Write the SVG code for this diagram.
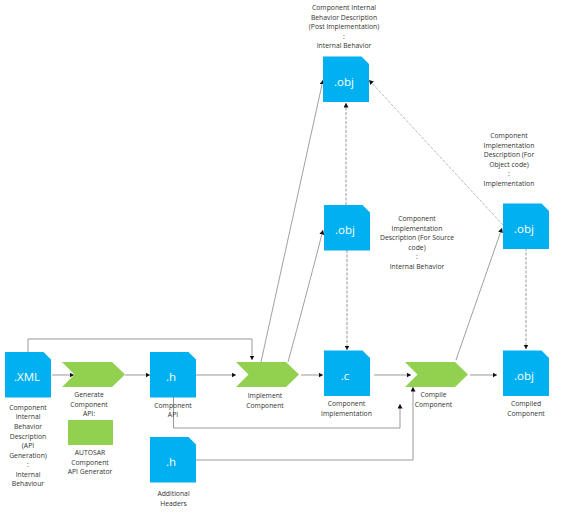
<svg xmlns="http://www.w3.org/2000/svg" width="582" height="512" viewBox="0 0 582 512">
<style>
.doc{fill:#00B0F0}
.act{fill:#92D050}
.ico{font-family:"Open Sans","Liberation Sans",sans-serif;font-size:11.500px;fill:#fff;text-anchor:middle}
.lbl{font-family:"Open Sans","Liberation Sans",sans-serif;font-size:6.800px;fill:#333;text-anchor:middle}
.ln{fill:none;stroke:#999;stroke-width:1;marker-end:url(#a)}
.thin{fill:none;stroke:#888;stroke-width:.8;marker-end:url(#a)}
.ds{fill:none;stroke:#999;stroke-width:1;stroke-dasharray:3 1.5;marker-end:url(#a)}
</style>
<defs>
<marker id="a" markerUnits="userSpaceOnUse" markerWidth="5" markerHeight="5" refX="4.500" refY="2.500" orient="auto"><path d="M0 0L4.500 2.500L0 5z" fill="#111"/></marker>
<path id="d" d="M0 0H38.500L46 7.500V45.500H0z"/>
<path id="c" d="M0 0H50L63 12.500L50 25H0L12.500 12.500z"/>
</defs>
<rect width="582" height="512" fill="#fff"/>
<g id="connectors">
<path class="ln" d="M28 352V339H252V360"/>
<path class="ln" d="M52 375H74"/>
<path class="ln" d="M125 375H150"/>
<path class="ln" d="M196 375H236"/>
<path class="ln" d="M301 375H323"/>
<path class="ln" d="M374 375H411"/>
<path class="ln" d="M470 375H497"/>
<path class="ln" d="M173.500 397V428H400V404"/>
<path class="ln" d="M196 460H413V387"/>
<path class="thin" d="M261 362L323 80"/>
<path class="thin" d="M288 362Q305 300 323 230"/>
<path class="thin" d="M456 360L502 228"/>
<path class="ds" d="M346 205V103"/>
<path class="ds" d="M347 250V350"/>
<path class="ds" d="M526 248V349"/>
<path class="ds" style="stroke-width:.7" d="M503 225L369 80"/>
</g>
<g id="xml"><use href="#d" class="doc" x="5" y="352"/><text class="ico" x="27" y="380.500">.XML</text>
<text class="lbl"><tspan x="28" y="409.500">Component</tspan><tspan x="28" y="419">Internal</tspan><tspan x="28" y="428.500">Behavior</tspan><tspan x="28" y="438.500">Description</tspan><tspan x="28" y="447.500">(API</tspan><tspan x="28" y="457.500">Generation)</tspan><tspan x="28" y="466.500">:</tspan><tspan x="28" y="476.500">Internal</tspan><tspan x="28" y="485.500">Behaviour</tspan></text></g>
<g id="generate"><use href="#c" class="act" x="62" y="362"/>
<text class="lbl"><tspan x="89" y="396.500">Generate</tspan><tspan x="89" y="406.500">Component</tspan><tspan x="89" y="415.500">API:</tspan></text></g>
<g id="generator"><rect class="act" x="68" y="420" width="45" height="25"/>
<text class="lbl"><tspan x="90" y="455">AUTOSAR</tspan><tspan x="90" y="464.500">Component</tspan><tspan x="90" y="474">API Generator</tspan></text></g>
<g id="api"><use href="#d" class="doc" x="150" y="352"/><text class="ico" x="171" y="380.500">.h</text>
<text class="lbl"><tspan x="173" y="408">Component</tspan><tspan x="173" y="417">API</tspan></text></g>
<g id="headers"><use href="#d" class="doc" x="150" y="437"/><text class="ico" x="171" y="465.500">.h</text>
<text class="lbl"><tspan x="173.500" y="495.500">Additional</tspan><tspan x="173.500" y="505.500">Headers</tspan></text></g>
<g id="implement"><use href="#c" class="act" x="236" y="362"/>
<text class="lbl"><tspan x="265" y="397.500">Implement</tspan><tspan x="265" y="407.500">Component</tspan></text></g>
<g id="impl"><use href="#d" class="doc" x="324" y="350.500"/><text class="ico" x="345" y="379.500">.c</text>
<text class="lbl"><tspan x="346.500" y="405.500">Component</tspan><tspan x="346.500" y="415.500">Implementation</tspan></text></g>
<g id="compile"><use href="#c" class="act" x="405" y="362"/>
<text class="lbl"><tspan x="433.500" y="396.500">Compile</tspan><tspan x="433.500" y="406.500">Component</tspan></text></g>
<g id="compiled"><use href="#d" class="doc" x="503" y="350.500"/><text class="ico" x="524" y="379.500">.obj</text>
<text class="lbl"><tspan x="526" y="405.500">Compiled</tspan><tspan x="526" y="415.500">Component</tspan></text></g>
<g id="post"><use href="#d" class="doc" x="323" y="56.500"/><text class="ico" x="344" y="86">.obj</text>
<text class="lbl"><tspan x="344" y="10">Component  Internal</tspan><tspan x="344" y="19.500">Behavior Description</tspan><tspan x="344" y="29">(Post Implementation)</tspan><tspan x="344" y="38.500">:</tspan><tspan x="344" y="48">Internal Behavior</tspan></text></g>
<g id="source"><use href="#d" class="doc" x="324" y="205"/><text class="ico" x="345" y="234">.obj</text>
<text class="lbl"><tspan x="417" y="221">Component</tspan><tspan x="417" y="230.500">Implementation</tspan><tspan x="417" y="240">Description  (For Source</tspan><tspan x="417" y="249.500">code)</tspan><tspan x="417" y="259">:</tspan><tspan x="417" y="268.500">Internal Behavior</tspan></text></g>
<g id="object"><use href="#d" class="doc" x="503" y="203.500"/><text class="ico" x="524" y="232.500">.obj</text>
<text class="lbl"><tspan x="509" y="138">Component</tspan><tspan x="509" y="147.500">Implementation</tspan><tspan x="509" y="157">Description  (For</tspan><tspan x="509" y="166.500">Object code)</tspan><tspan x="509" y="176">:</tspan><tspan x="509" y="185.500">Implementation</tspan></text></g>
</svg>
